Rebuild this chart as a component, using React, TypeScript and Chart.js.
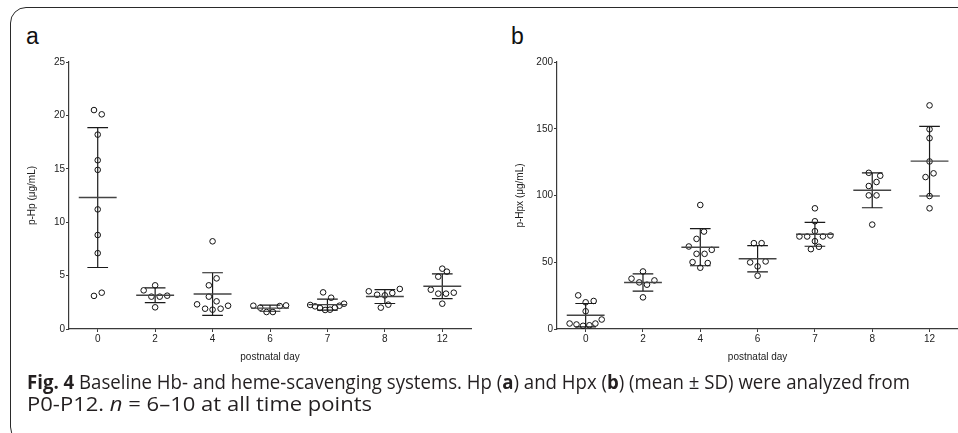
import { useEffect, useLayoutEffect, useRef } from "react";
import type { ReactNode } from "react";
import { Chart, registerables } from "chart.js";

Chart.register(...registerables);

// ---------- data ----------
const days = ["0", "2", "4", "6", "7", "8", "12"];

// Panel a: p-Hp (µg/mL), individual animals per postnatal day
const hpValues: number[][] = [
  [20.5, 20.1, 18.2, 15.8, 14.9, 11.2, 8.8, 7.1, 3.1, 3.4],
  [4.09, 3.62, 3.03, 3.03, 3.12, 2.03],
  [8.21, 4.74, 4.09, 3.03, 2.59, 2.31, 1.9, 1.81, 1.9, 2.18],
  [2.18, 2.0, 1.59, 1.59, 2.15, 2.21],
  [3.43, 2.93, 2.25, 2.12, 1.97, 1.78, 1.81, 2.0, 2.18, 2.37],
  [3.53, 3.21, 3.15, 3.37, 3.75, 2.0, 2.28],
  [5.65, 5.37, 4.9, 3.68, 3.31, 3.31, 3.4, 2.37],
];
// horizontal scatter of the dots (in day-slot units)
const hpJitter: number[][] = [
  [-0.065, 0.07, 0, 0, 0, 0, 0, 0, -0.065, 0.07],
  [0, -0.2, -0.065, 0.08, 0.21, 0],
  [0, 0.07, -0.065, -0.065, 0.07, -0.27, -0.13, 0, 0.14, 0.27],
  [-0.29, -0.17, -0.06, 0.05, 0.17, 0.28],
  [-0.075, 0.065, -0.3, -0.215, -0.13, -0.04, 0.045, 0.13, 0.21, 0.29],
  [-0.28, -0.135, 0, 0.13, 0.26, -0.07, 0.06],
  [0, 0.08, -0.07, -0.2, -0.07, 0.065, 0.2, 0],
];
const hpTicks = [0, 5, 10, 15, 20, 25];

// Panel b: p-Hpx (µg/mL)
const hpxValues: number[][] = [
  [25.2, 20.0, 21.0, 13.3, 7.1, 4.1, 4.1, 3.4, 2.4, 2.8],
  [43.1, 37.7, 34.9, 33.2, 36.4, 23.7],
  [92.9, 73.0, 67.5, 61.8, 59.3, 56.3, 56.3, 50.1, 49.4, 45.9],
  [64.3, 64.3, 49.9, 50.6, 46.9, 39.9],
  [90.4, 80.7, 73.3, 69.3, 69.3, 69.3, 70.0, 65.8, 59.8, 61.6],
  [117.0, 114.8, 110.1, 107.1, 100.1, 100.1, 78.2],
  [167.5, 149.6, 142.9, 125.5, 116.6, 113.8, 99.6, 90.4],
];
const hpxJitter: number[][] = [
  [-0.13, 0, 0.14, 0, 0.28, 0.17, -0.28, -0.16, -0.045, 0.065],
  [0, -0.2, -0.065, 0.07, 0.2, 0],
  [0, 0.065, -0.065, -0.2, 0.2, -0.065, 0.075, -0.135, 0.13, 0],
  [-0.065, 0.07, -0.13, 0.14, 0, 0],
  [0, 0, 0, -0.27, -0.135, 0.14, 0.27, 0, -0.07, 0.07],
  [-0.06, 0.14, 0.075, -0.06, -0.06, 0.075, 0],
  [0, 0, 0, 0, 0.07, -0.07, 0, 0],
];
const hpxTicks = [0, 50, 100, 150, 200];

// ---------- helpers ----------
const mean = (a: number[]) => a.reduce((s, v) => s + v, 0) / a.length;
const sd = (a: number[]) => {
  const m = mean(a);
  return Math.sqrt(a.reduce((s, v) => s + (v - m) * (v - m), 0) / (a.length - 1));
};

const AXIS = "#3a3a3a";
const TEXT = "#222";
const FONT = { family: '"Liberation Sans", Arial, Helvetica, sans-serif', size: 10 };

function makeMeanSdPlugin(groups: number[][]) {
  return {
    id: "meanSd",
    afterDatasetsDraw(chart: any) {
      const xs = chart.scales.x;
      const ys = chart.scales.y;
      const ctx = chart.ctx as CanvasRenderingContext2D;
      ctx.save();
      ctx.strokeStyle = "#1a1a1a";
      ctx.lineWidth = 1.2;
      groups.forEach((vals, i) => {
        const m = mean(vals);
        const s = sd(vals);
        const xc = xs.getPixelForValue(i);
        const half = xs.getPixelForValue(i + 0.33) - xc;
        const cap = xs.getPixelForValue(i + 0.18) - xc;
        const ym = ys.getPixelForValue(m);
        const yt = ys.getPixelForValue(m + s);
        const yb = ys.getPixelForValue(Math.max(m - s, ys.min));
        ctx.beginPath();
        ctx.moveTo(xc, yt);
        ctx.lineTo(xc, yb);
        ctx.moveTo(xc - cap, yt);
        ctx.lineTo(xc + cap, yt);
        ctx.moveTo(xc - cap, yb);
        ctx.lineTo(xc + cap, yb);
        ctx.stroke();
        ctx.save();
        ctx.strokeStyle = "#444";
        ctx.lineWidth = 1.4;
        ctx.beginPath();
        ctx.moveTo(xc - half, ym);
        ctx.lineTo(xc + half, ym);
        ctx.stroke();
        ctx.restore();
      });
      ctx.restore();
    },
  };
}

interface PanelProps {
  left: number;
  top: number;
  width: number;
  height: number;
  values: number[][];
  jitter: number[][];
  yTicks: number[];
  yTitle: string;
  pad: { left: number; top: number; right: number; bottom: number };
  yAxisWidth: number;
  xAxisHeight: number;
  yTitlePad: number;
  xTitlePad: number;
}

function Panel(p: PanelProps) {
  const ref = useRef<HTMLCanvasElement>(null);
  useEffect(() => {
    if (!ref.current) return;
    const points: { x: number; y: number }[] = [];
    p.values.forEach((vals, i) =>
      vals.forEach((v, j) => points.push({ x: i + (p.jitter[i][j] || 0), y: v }))
    );
    const yMax = p.yTicks[p.yTicks.length - 1];
    const chart = new Chart(ref.current, {
      type: "scatter",
      data: {
        datasets: [
          {
            data: points,
            pointRadius: 2.8,
            pointHoverRadius: 2.8,
            pointBorderWidth: 1,
            pointBackgroundColor: "rgba(0,0,0,0)",
            pointBorderColor: "#111",
          },
        ],
      },
      options: {
        animation: false,
        responsive: false,
        maintainAspectRatio: false,
        events: [],
        layout: { padding: p.pad },
        plugins: { legend: { display: false }, tooltip: { enabled: false } },
        scales: {
          x: {
            type: "linear",
            min: -0.5,
            max: 6.5,
            afterBuildTicks: (s: any) => {
              s.ticks = days.map((_, i) => ({ value: i }));
            },
            afterFit: (s: any) => {
              s.height = p.xAxisHeight;
            },
            ticks: {
              callback: (v: any) => days[v as number] ?? "",
              autoSkip: false,
              maxRotation: 0,
              padding: 1,
              font: FONT,
              color: TEXT,
            },
            grid: {
              display: true,
              drawOnChartArea: false,
              drawTicks: true,
              tickLength: 3,
              color: AXIS,
              lineWidth: 1,
            },
            border: { display: true, color: AXIS, width: 1.2 },
            title: {
              display: true,
              text: "postnatal day",
              font: FONT,
              color: TEXT,
              padding: { top: 0, bottom: p.xTitlePad },
            },
          },
          y: {
            type: "linear",
            min: 0,
            max: yMax,
            afterBuildTicks: (s: any) => {
              s.ticks = p.yTicks.map((v) => ({ value: v }));
            },
            afterFit: (s: any) => {
              s.width = p.yAxisWidth;
            },
            ticks: { padding: 1, font: FONT, color: TEXT },
            grid: {
              display: true,
              drawOnChartArea: false,
              drawTicks: true,
              tickLength: 3,
              color: AXIS,
              lineWidth: 1,
            },
            border: { display: true, color: AXIS, width: 1.2 },
            title: {
              display: true,
              text: p.yTitle,
              font: FONT,
              color: TEXT,
              padding: { top: p.yTitlePad, bottom: 0 },
            },
          },
        },
      },
      plugins: [makeMeanSdPlugin(p.values)],
    } as any);
    return () => chart.destroy();
  }, []);
  return (
    <canvas
      ref={ref}
      width={p.width}
      height={p.height}
      style={{ position: "absolute", left: p.left, top: p.top, width: p.width, height: p.height }}
    />
  );
}

function FitLine({ left, top, width, children }: { left: number; top: number; width: number; children: ReactNode }) {
  const ref = useRef<HTMLDivElement>(null);
  useLayoutEffect(() => {
    const el = ref.current;
    if (!el) return;
    el.style.transform = "none";
    const w = el.getBoundingClientRect().width;
    if (w > 0) el.style.transform = `scaleX(${width / w})`;
  }, [width]);
  return (
    <div
      ref={ref}
      style={{
        position: "absolute",
        left,
        top,
        whiteSpace: "nowrap",
        display: "inline-block",
        transformOrigin: "0 0",
        fontFamily: '"Open Sans", "Noto Sans", sans-serif',
        fontSize: 19.5,
        lineHeight: "22px",
        color: "#231f20",
      }}
    >
      {children}
    </div>
  );
}

export default function App() {
  return (
    <div
      style={{
        position: "fixed",
        left: 0,
        top: 0,
        width: 958,
        height: 433,
        overflow: "hidden",
        background: "#fff",
      }}
    >
      <div
        style={{
          position: "absolute",
          left: 10,
          top: 7,
          width: 1000,
          height: 436,
          border: "1.6px solid #2a2a2a",
          borderRadius: 16,
          boxSizing: "border-box",
        }}
      />
      <div
        style={{
          position: "absolute",
          left: 26,
          top: 25,
          fontFamily: '"Liberation Sans", Arial, sans-serif',
          fontSize: 23,
          lineHeight: "23px",
          color: "#111",
        }}
      >
        a
      </div>
      <div
        style={{
          position: "absolute",
          left: 511,
          top: 25,
          fontFamily: '"Liberation Sans", Arial, sans-serif',
          fontSize: 23,
          lineHeight: "23px",
          color: "#111",
        }}
      >
        b
      </div>
      <Panel
        left={0}
        top={40}
        width={480}
        height={340}
        values={hpValues}
        jitter={hpJitter}
        yTicks={hpTicks}
        yTitle="p-Hp (μg/mL)"
        pad={{ left: 0, top: 22, right: 9, bottom: 0 }}
        yAxisWidth={69}
        xAxisHeight={51}
        yTitlePad={26}
        xTitlePad={17}
      />
      <Panel
        left={480}
        top={40}
        width={482}
        height={340}
        values={hpxValues}
        jitter={hpxJitter}
        yTicks={hpxTicks}
        yTitle="p-Hpx (μg/mL)"
        pad={{ left: 0, top: 22, right: 2, bottom: 0 }}
        yAxisWidth={77}
        xAxisHeight={51}
        yTitlePad={34}
        xTitlePad={17}
      />
      <FitLine left={27} top={371} width={883}>
        <b>Fig. 4</b> Baseline Hb- and heme-scavenging systems. Hp (<b>a</b>) and Hpx (<b>b</b>) (mean ± SD)
        were analyzed from
      </FitLine>
      <FitLine left={27} top={393} width={345}>
        P0-P12. <i>n</i> = 6–10 at all time points
      </FitLine>
    </div>
  );
}
